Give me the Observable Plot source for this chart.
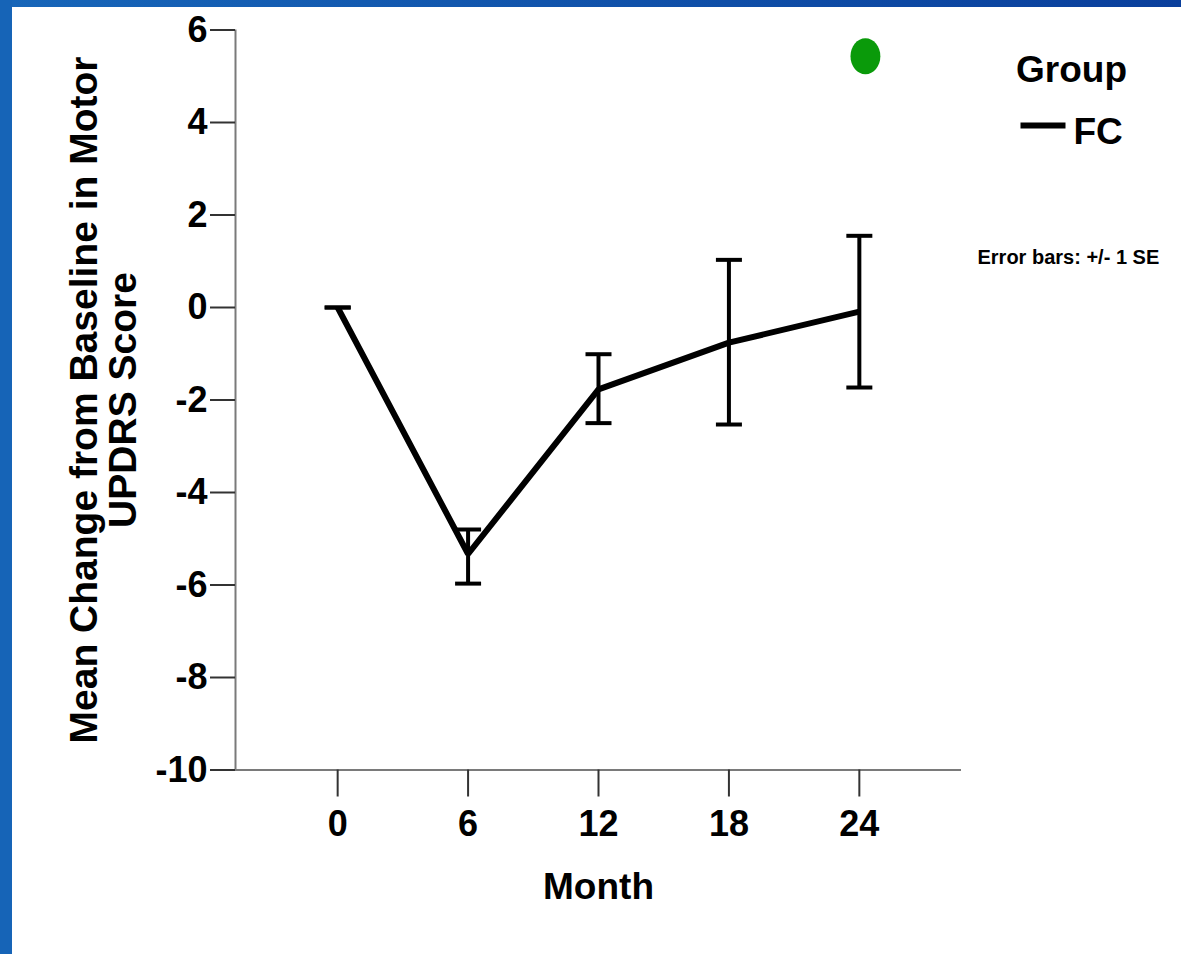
<!DOCTYPE html>
<html>
<head>
<meta charset="utf-8">
<script src="https://cdn.jsdelivr.net/npm/d3@7"></script>
<script src="https://cdn.jsdelivr.net/npm/@observablehq/plot@0.6"></script>
<style>
  html, body { margin: 0; padding: 0; background: #fff; overflow: hidden; }
  #wrap { position: relative; width: 1181px; height: 954px; background: #fff; }
  #topbar { position: absolute; left: 0; top: 0; width: 1181px; height: 7px;
            background: linear-gradient(to right, #1766b9, #0a3f9c); z-index: 2; }
  #leftbar { position: absolute; left: 0; top: 0; width: 12px; height: 954px;
             background: #1664b7; z-index: 2; }
  #chart { position: absolute; left: 0; top: 0; }
</style>
</head>
<body>
<div id="wrap">
  <div id="topbar"></div>
  <div id="leftbar"></div>
  <div id="chart"></div>
</div>
<script>
// ---- data ----
const months = [0, 6, 12, 18, 24];
const meanChange = [0, -5.33, -1.77, -0.76, -0.09];
const seLower = [0, -5.97, -2.50, -2.53, -1.73];
const seUpper = [0, -4.80, -1.01, 1.03, 1.55];
const yTicks = [-10, -8, -6, -4, -2, 0, 2, 4, 6];
const xTicks = [0, 6, 12, 18, 24];
const xDomain = [-4.7, 28.7];
const yDomain = [-10, 6];
const greenMarker = [{month: 24.28, value: 5.43}];
const groupName = "FC";
const legendTitle = "Group";
const errorNote = "Error bars: +/- 1 SE";
const xLabel = "Month";
const yLabel = "Mean Change from Baseline in Motor\nUPDRS Score";

const data = months.map((m, i) => ({month: m, mean: meanChange[i], lo: seLower[i], hi: seUpper[i]}));

// horizontal-line symbol (error bar caps, legend swatch)
const hline = {
  draw(ctx, size) {
    const r = Math.sqrt(size / Math.PI);
    ctx.moveTo(-r, 0);
    ctx.lineTo(r, 0);
  }
};
// ellipse symbol
const ellipse = {
  draw(ctx, size) {
    const r = Math.sqrt(size / Math.PI);
    const rx = r * 0.83, ry = r, k = 0.5523;
    ctx.moveTo(rx, 0);
    ctx.bezierCurveTo(rx, ry * k, rx * k, ry, 0, ry);
    ctx.bezierCurveTo(-rx * k, ry, -rx, ry * k, -rx, 0);
    ctx.bezierCurveTo(-rx, -ry * k, -rx * k, -ry, 0, -ry);
    ctx.bezierCurveTo(rx * k, -ry, rx, -ry * k, rx, 0);
    ctx.closePath();
  }
};

const font = "'Liberation Sans', Arial, Helvetica, sans-serif";

const chart = Plot.plot({
  width: 1181,
  height: 954,
  marginLeft: 235,
  marginRight: 220,
  marginTop: 29.5,
  marginBottom: 184.5,
  style: {fontFamily: font, fontWeight: "bold", background: "#fff", color: "black"},
  x: {domain: xDomain},
  y: {domain: yDomain},
  marks: [
    // axis lines
    Plot.ruleX([xDomain[0]], {y1: yDomain[0], y2: yDomain[1], stroke: "#7a7a7a", strokeWidth: 2}),
    Plot.ruleY([yDomain[0]], {x1: xDomain[0], x2: xDomain[1], stroke: "#7a7a7a", strokeWidth: 2}),
    Plot.axisY({ticks: yTicks, tickSize: 25, tickPadding: 3, fontSize: 36, tickFormat: d => String(d),
                stroke: "#333", strokeWidth: 2, fill: "black", label: null}),
    Plot.axisX({ticks: xTicks, tickSize: 27, tickPadding: 13, fontSize: 36, tickFormat: d => String(d),
                stroke: "#333", strokeWidth: 2, fill: "black", label: null}),
    // error bars
    Plot.ruleX(data, {x: "month", y1: "lo", y2: "hi", stroke: "black", strokeWidth: 4}),
    Plot.dot(data, {x: "month", y: "lo", symbol: hline, r: 13, stroke: "black", strokeWidth: 4}),
    Plot.dot(data, {x: "month", y: "hi", symbol: hline, r: 13, stroke: "black", strokeWidth: 4}),
    // mean line
    Plot.line(data, {x: "month", y: "mean", stroke: "black", strokeWidth: 6,
                     strokeLinejoin: "miter", strokeLinecap: "butt"}),
    // green marker
    Plot.dot(greenMarker, {x: "month", y: "value", symbol: ellipse, r: 18, fill: "#0a9a0a", stroke: "none"}),
    // axis titles
    Plot.text([xLabel], {frameAnchor: "bottom", lineAnchor: "middle", dy: 117.5, fontSize: 37, fill: "black"}),
    Plot.text([yLabel], {frameAnchor: "left", lineAnchor: "middle", dx: -131.5, rotate: -90, fontSize: 39, lineHeight: 1.0,
                         textAnchor: "middle", fill: "black"}),
    // legend
    Plot.text([legendTitle], {frameAnchor: "top-right", lineAnchor: "middle", dx: 110, dy: 40, fontSize: 37, textAnchor: "middle", fill: "black"}),
    Plot.dot([groupName], {frameAnchor: "top-right", dx: 81.5, dy: 95.5, symbol: hline, r: 22.5, stroke: "black", strokeWidth: 6}),
    Plot.text([groupName], {frameAnchor: "top-right", lineAnchor: "middle", dx: 112, dy: 102, fontSize: 37, textAnchor: "start", fill: "black"}),
    Plot.text([errorNote], {frameAnchor: "top-right", lineAnchor: "middle", dx: 16, dy: 228, fontSize: 20, textAnchor: "start", fill: "black"})
  ]
});

document.getElementById("chart").appendChild(chart);
</script>
</body>
</html>
